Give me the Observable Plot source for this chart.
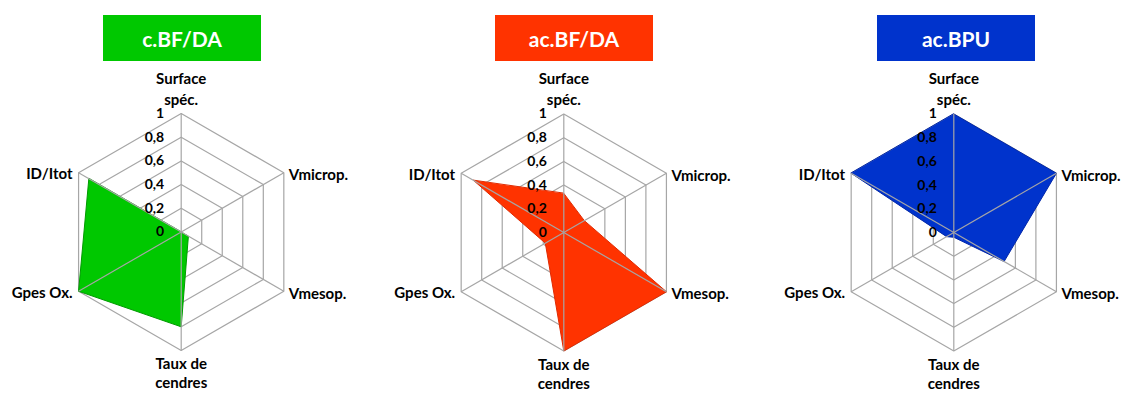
<!DOCTYPE html>
<html><head><meta charset="utf-8">
<script src="https://cdn.jsdelivr.net/npm/d3@7"></script>
<script src="https://cdn.jsdelivr.net/npm/@observablehq/plot@0.6"></script>
<style>
body{margin:0;background:#fff;font-family:Lato,"Open Sans",sans-serif;}
#root{position:relative;width:1126px;height:394px;overflow:hidden;}
.panel{position:absolute;top:0;height:394px;}
.title{position:absolute;top:15px;height:46px;width:158px;color:#fff;font-weight:bold;font-size:21px;display:flex;align-items:center;justify-content:center;font-family:Lato,"Open Sans",sans-serif;}
.panel svg{position:absolute;top:66px;left:0;overflow:visible;}
</style></head><body><div id="root"></div>
<script>
// ---- data ----
const axes = ["Surface\nspéc.", "Vmicrop.", "Vmesop.", "Taux de\ncendres", "Gpes Ox.", "ID/Itot"];
const ticks = [0, 0.2, 0.4, 0.6, 0.8, 1];
const tickLabels = ["0", "0,2", "0,4", "0,6", "0,8", "1"];
const seriesNames = ["c.BF/DA", "ac.BF/DA", "ac.BPU"];
const valuesCBF = [0.0, 0.0, 0.07, 0.80, 1.0, 0.90];
const valuesACBF = [0.33, 0.20, 1.0, 1.0, 0.18, 0.88];
const valuesACBPU = [1.0, 1.0, 0.49, 0.04, 0.07, 1.0];
const seriesValues = [valuesCBF, valuesACBF, valuesACBPU];
const fillColors = ["#00c800", "#ff3300", "#0033cc"];
const edgeColors = ["#009a00", "#e02a00", "#0026a8"];

// ---- layout ----
const R = 118.5, H = 328;
const panels = [
  {left: 0, width: 375, cx: 180.7, cy: 165.5, titleLeft: 103},
  {left: 375, width: 375, cx: 188.3, cy: 166, titleLeft: 120},
  {left: 750, width: 376, cx: 203.3, cy: 166, titleLeft: 127}
];
const FONT = "Lato, 'Open Sans', sans-serif";
const GRID = "#a6a6a6";

const ang = i => i * Math.PI / 3;
const root = document.getElementById("root");

seriesNames.forEach((name, s) => {
  const p = panels[s];
  const vals = seriesValues[s];
  const grid = ticks.filter(t => t > 0).flatMap(t => axes.map((a, i) => ({level: t, x: t * Math.sin(ang(i)), y: t * Math.cos(ang(i))})));
  const poly = vals.map((v, i) => ({x: v * Math.sin(ang(i)), y: v * Math.cos(ang(i))}));
  const spokes = axes.map((a, i) => ({label: a, i, x: Math.sin(ang(i)), y: Math.cos(ang(i))}));
  const tickData = ticks.map((t, k) => ({v: t, label: tickLabels[k]}));
  const top = spokes.filter(d => Math.abs(d.x) < 1e-6 && d.y > 0);
  const bottom = spokes.filter(d => Math.abs(d.x) < 1e-6 && d.y < 0);
  const right = spokes.filter(d => d.x > 1e-6);
  const left = spokes.filter(d => d.x < -1e-6);
  const lbl = {text: "label", x: "x", y: "y", fontWeight: "bold", fontSize: 15, lineHeight: 1.38, fill: "#000"};

  const chart = Plot.plot({
    width: p.width, height: H, margin: 0,
    x: {domain: [-p.cx / R, (p.width - p.cx) / R], axis: null},
    y: {domain: [-(H - p.cy) / R, p.cy / R], axis: null},
    style: {fontFamily: FONT, background: "transparent"},
    marks: [
      Plot.line(grid, {x: "x", y: "y", z: "level", curve: "linear-closed", stroke: GRID, strokeWidth: 1.2}),
      Plot.line(poly, {x: "x", y: "y", curve: "linear-closed", fill: fillColors[s], stroke: edgeColors[s], strokeWidth: 1}),
      Plot.link(spokes, {x1: d => 0, y1: d => 0, x2: "x", y2: "y", stroke: GRID, strokeWidth: 1.2}),
      Plot.text(tickData, {x: d => 0, y: "v", text: "label", textAnchor: "end", dx: -17, fontWeight: "bold", fontSize: 14, fill: "#000"}),
      Plot.text(top, {...lbl, textAnchor: "middle", lineAnchor: "bottom", dy: -9}),
      Plot.text(bottom, {...lbl, lineHeight: 1.28, textAnchor: "middle", lineAnchor: "top", dy: 5}),
      Plot.text(right, {...lbl, textAnchor: "start", dx: 5, dy: 1}),
      Plot.text(left, {...lbl, textAnchor: "end", dx: -6, dy: 0})
    ]
  });

  const panel = document.createElement("div");
  panel.className = "panel";
  panel.style.left = p.left + "px";
  panel.style.width = p.width + "px";
  const title = document.createElement("div");
  title.className = "title";
  title.style.left = p.titleLeft + "px";
  title.style.background = fillColors[s];
  title.textContent = name;
  panel.appendChild(title);
  panel.appendChild(chart);
  root.appendChild(panel);
});
</script></body></html>
